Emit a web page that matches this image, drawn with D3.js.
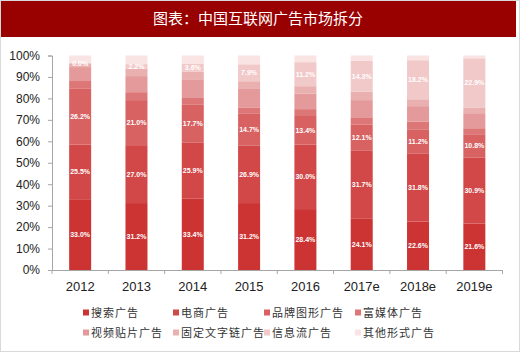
<!DOCTYPE html>
<html>
<head>
<meta charset="utf-8">
<script src="https://cdn.jsdelivr.net/npm/d3@7"></script>
<style>
  body { margin: 0; background: #fff; }
  svg { display: block; font-family: "Liberation Sans", Arial, sans-serif; }
</style>
</head>
<body>
<div id="chart"></div>
<script>
// categories and series (share %, bottom to top)
const years = ['2012', '2013', '2014', '2015', '2016', '2017e', '2018e', '2019e'];
const seriesNames = ['搜索广告', '电商广告', '品牌图形广告', '富媒体广告', '视频贴片广告', '固定文字链广告', '信息流广告', '其他形式广告'];
const search   = [33.0, 31.2, 33.4, 31.2, 28.4, 24.1, 22.6, 21.6];
const ecommerce = [25.5, 27.0, 25.9, 26.9, 30.0, 31.7, 31.8, 30.9];
const brand    = [26.2, 21.0, 17.7, 14.7, 13.4, 12.1, 11.2, 10.8];
const richMedia = [3.4, 3.7, 3.2, 3.0, 3.2, 3.3, 3.6, 2.8];
const video    = [6.5, 7.5, 8.4, 8.6, 7.3, 8.0, 7.2, 7.0];
const textLink = [1.8, 3.4, 3.9, 3.6, 3.4, 4.0, 3.2, 2.7];
const feed     = [0.0, 2.2, 3.6, 7.9, 11.2, 14.3, 18.2, 22.9];
const other    = [3.6, 4.0, 3.9, 4.1, 3.1, 2.5, 2.2, 1.3];
const seriesValues = [search, ecommerce, brand, richMedia, video, textLink, feed, other];
const labelledSeries = [0, 1, 2, 6];
const yTicks = [0, 10, 20, 30, 40, 50, 60, 70, 80, 90, 100];

const colors = ['#cc3333', '#d24747', '#d86262', '#dd7676', '#e49a9a', '#eab0b0', '#f2c9c9', '#f9e3e3'];

const width = 520, height = 352;
const svg = d3.select('#chart').append('svg')
    .attr('width', width)
    .attr('height', height);

// title bar
svg.append('rect')
    .attr('x', 0.5).attr('y', 0.5)
    .attr('width', width - 1).attr('height', height - 1)
    .attr('fill', 'none').attr('stroke', '#d9d9d9');
svg.append('rect')
    .attr('x', 1).attr('y', 1)
    .attr('width', 515).attr('height', 36)
    .attr('fill', '#990000');
svg.append('text')
    .attr('x', 258).attr('y', 24)
    .attr('text-anchor', 'middle')
    .attr('fill', '#fff')
    .style('font-family', '"Noto Sans CJK SC", sans-serif')
    .style('font-size', '15px')
    .text('图表：中国互联网广告市场拆分');

// scales
const x = d3.scaleBand().domain(years).range([52, 502.5]).padding(0);
const y = d3.scaleLinear().domain([0, 100]).range([270, 55.5]);
const barW = 22;

// stack the data
const table = years.map((yr, i) => {
    const row = { year: yr };
    seriesNames.forEach((s, j) => { row[s] = seriesValues[j][i]; });
    return row;
});
const stacked = d3.stack().keys(seriesNames)(table);

// y axis
const yAxis = svg.append('g')
    .attr('transform', 'translate(52,0)')
    .call(d3.axisLeft(y).tickValues(yTicks).tickFormat(d => d + '%').tickSize(4).tickPadding(8));
yAxis.select('.domain').attr('stroke', '#a6a6a6');
yAxis.selectAll('.tick line').attr('stroke', '#a6a6a6');
yAxis.selectAll('text')
    .style('font-size', '12px')
    .attr('fill', '#222');

// bars
const layers = svg.append('g').selectAll('g')
    .data(stacked)
    .join('g')
    .attr('fill', (d, i) => colors[i]);

layers.selectAll('rect')
    .data(d => d)
    .join('rect')
    .attr('x', d => x(d.data.year) + x.bandwidth() / 2 - barW / 2)
    .attr('y', d => y(d[1]))
    .attr('width', barW)
    .attr('height', d => y(d[0]) - y(d[1]));

// value labels
labelledSeries.forEach(k => {
    svg.append('g').selectAll('text')
        .data(stacked[k])
        .join('text')
        .attr('x', d => x(d.data.year) + x.bandwidth() / 2)
        .attr('y', d => (y(d[0]) + y(d[1])) / 2 + 2.5)
        .attr('text-anchor', 'middle')
        .attr('fill', '#fff')
        .style('font-size', '7px')
        .style('font-weight', 'bold')
        .text(d => (d[1] - d[0]).toFixed(1) + '%');
});

// x axis
const xAxis = svg.append('g')
    .attr('transform', 'translate(0,270)')
    .call(d3.axisBottom(x).tickSize(0).tickPadding(12));
xAxis.select('.domain').attr('stroke', '#a6a6a6');
xAxis.selectAll('text')
    .style('font-size', '13px')
    .attr('fill', '#222');
svg.append('g').selectAll('line')
    .data(d3.range(years.length + 1))
    .join('line')
    .attr('x1', i => x.range()[0] + i * x.step())
    .attr('x2', i => x.range()[0] + i * x.step())
    .attr('y1', 270).attr('y2', 274)
    .attr('stroke', '#a6a6a6');

// legend
const legendX = [83, 173, 264, 355];
const legendY = [313, 333];
const legend = svg.append('g').selectAll('g')
    .data(seriesNames)
    .join('g')
    .attr('transform', (d, i) => `translate(${legendX[i % 4]},${legendY[Math.floor(i / 4)]})`);
legend.append('rect')
    .attr('x', 0).attr('y', -3.5)
    .attr('width', 6).attr('height', 6)
    .attr('fill', (d, i) => colors[i]);
legend.append('text')
    .attr('x', 8).attr('y', 4)
    .attr('fill', '#333')
    .style('font-family', '"Noto Sans CJK SC", sans-serif')
    .style('font-size', '11px')
    .style('letter-spacing', '1px')
    .text(d => d);
</script>
</body>
</html>
